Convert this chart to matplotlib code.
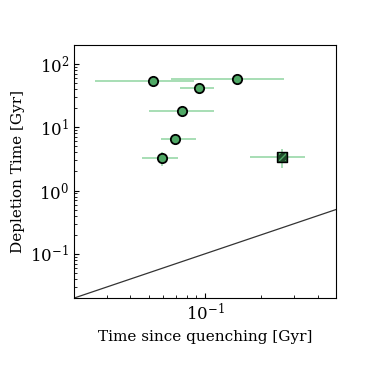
import matplotlib
matplotlib.use("Agg")
import matplotlib.pyplot as plt
import numpy as np

plt.rcParams['font.family'] = 'DejaVu Serif'
plt.rcParams['mathtext.fontset'] = 'dejavuserif'

# circles
t_q = [0.0529, 0.149, 0.0925, 0.0757, 0.0695, 0.0589]
t_q_lo = [0.026, 0.0657, 0.0736, 0.050, 0.058, 0.046]
t_q_hi = [0.0874, 0.263, 0.1117, 0.1117, 0.090, 0.0718]
t_dep = [54.7, 58.8, 41.4, 18.0, 6.55, 3.23]
t_dep_lo = [54.7, 58.8, 41.4, 18.0, 6.55, 2.4]
t_dep_hi = [54.7, 58.8, 41.4, 18.0, 6.55, 4.0]

# square
sq_tq = [0.259]
sq_tq_lo = [0.173]
sq_tq_hi = [0.343]
sq_dep = [3.42]
sq_dep_lo = [2.3]
sq_dep_hi = [4.5]

line_x = [0.02, 0.5]

fig = plt.figure(figsize=(3.74, 3.74), dpi=100)
ax = fig.add_axes([0.198, 0.203, 0.700, 0.677])

ecol = '#8fd4a0'
x = np.array(t_q); y = np.array(t_dep)
ax.errorbar(x, y, xerr=[x - np.array(t_q_lo), np.array(t_q_hi) - x],
            yerr=[y - np.array(t_dep_lo), np.array(t_dep_hi) - y],
            fmt='none', ecolor=ecol, elinewidth=1.1, zorder=1)
ax.scatter(x, y, s=45, c='#4fa865', edgecolors='black', linewidths=1.3, zorder=3)

xs = np.array(sq_tq); ys = np.array(sq_dep)
ax.errorbar(xs, ys, xerr=[xs - np.array(sq_tq_lo), np.array(sq_tq_hi) - xs],
            yerr=[ys - np.array(sq_dep_lo), np.array(sq_dep_hi) - ys],
            fmt='none', ecolor=ecol, elinewidth=1.1, zorder=1)
ax.scatter(xs, ys, s=50, marker='s', c='#1f4a2a', edgecolors='black',
           linewidths=1.0, zorder=3)
ax.scatter(xs, ys, s=30, marker='s', c='none', edgecolors='#4fa865',
           hatch='/////', linewidths=0, zorder=4)

ax.plot(line_x, line_x, color='#333333', lw=0.9, zorder=2)

ax.set_xscale('log'); ax.set_yscale('log')
ax.set_xlim(0.02, 0.5); ax.set_ylim(0.02, 200)
ax.tick_params(which='both', direction='in', labelsize=12)
ax.set_xlabel('Time since quenching [Gyr]', fontsize=11)
ax.set_ylabel('Depletion Time [Gyr]', fontsize=11)
fig.savefig('out.png', dpi=100)
